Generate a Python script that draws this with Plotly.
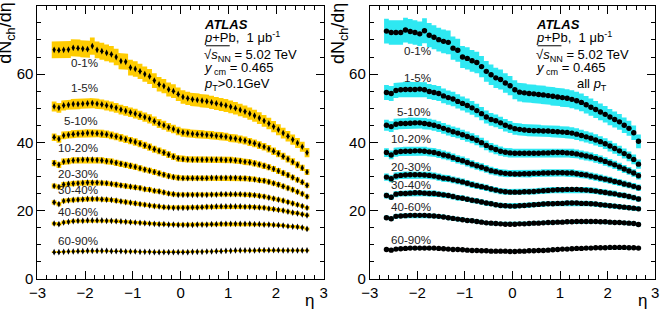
import plotly.graph_objects as go

# ---------------- data ----------------
ETA = [-2.65, -2.55, -2.45, -2.35, -2.25, -2.15, -2.05, -1.95, -1.85, -1.75,
       -1.65, -1.55, -1.45, -1.35, -1.25, -1.15, -1.05, -0.95, -0.85, -0.75,
       -0.65, -0.55, -0.45, -0.35, -0.25, -0.15, -0.05, 0.05, 0.15, 0.25,
       0.35, 0.45, 0.55, 0.65, 0.75, 0.85, 0.95, 1.05, 1.15, 1.25,
       1.35, 1.45, 1.55, 1.65, 1.75, 1.85, 1.95, 2.05, 2.15, 2.25,
       2.35, 2.45, 2.55, 2.65]

CENTRALITIES = ["0-1%", "1-5%", "5-10%", "10-20%", "20-30%", "30-40%", "40-60%", "60-90%"]

# left panel: pT > 0.1 GeV
L_0_1 = [67.1, 67.0, 67.1, 67.2, 67.7, 67.6, 67.4, 67.3, 68.2, 67.1,
         66.7, 66.2, 65.8, 65.0, 63.8, 63.6, 61.9, 61.5, 60.8, 60.0,
         59.3, 58.1, 57.0, 56.5, 55.5, 55.0, 54.1, 53.3, 52.9, 52.6,
         52.4, 52.2, 52.0, 51.7, 51.4, 51.1, 50.8, 50.4, 50.0, 49.5,
         49.0, 48.4, 47.8, 47.1, 46.3, 45.5, 44.6, 43.7, 42.7, 41.8,
         40.8, 39.8, 38.7, 37.0]
L_1_5 = [50.5, 50.1, 50.8, 51.0, 51.2, 51.2, 51.3, 51.4, 51.5, 51.3,
         51.1, 50.8, 50.5, 50.1, 49.6, 49.2, 48.8, 48.4, 47.9, 47.4,
         46.9, 46.2, 45.5, 45.0, 44.4, 43.9, 43.3, 42.9, 42.7, 42.5,
         42.4, 42.3, 42.2, 42.1, 41.9, 41.8, 41.6, 41.3, 41.1, 40.8,
         40.5, 40.1, 39.7, 39.2, 38.7, 38.1, 37.4, 36.7, 35.9, 35.1,
         34.3, 33.4, 32.5, 31.3]
L_5_10 = [41.5, 41.0, 42.0, 42.2, 42.4, 42.5, 42.6, 42.7, 42.7, 42.6,
          42.5, 42.3, 42.0, 41.7, 41.3, 40.9, 40.5, 40.1, 39.6, 39.1,
          38.6, 38.0, 37.5, 37.0, 36.4, 35.8, 35.3, 35.1, 35.0, 34.9,
          34.9, 34.9, 34.9, 34.9, 34.9, 34.9, 34.8, 34.8, 34.7, 34.5,
          34.3, 34.1, 33.8, 33.5, 33.1, 32.7, 32.2, 31.6, 31.0, 30.4,
          29.7, 29.0, 28.3, 27.4]
L_10_20 = [33.9, 33.4, 34.3, 34.5, 34.7, 34.8, 34.9, 34.9, 34.9, 34.8,
           34.7, 34.5, 34.3, 34.0, 33.7, 33.4, 33.1, 32.8, 32.4, 32.0,
           31.7, 31.3, 30.9, 30.5, 30.1, 29.8, 29.6, 29.5, 29.5, 29.5,
           29.5, 29.5, 29.5, 29.6, 29.6, 29.6, 29.6, 29.6, 29.6, 29.5,
           29.4, 29.3, 29.1, 28.9, 28.7, 28.4, 28.0, 27.6, 27.1, 26.6,
           26.1, 25.5, 24.9, 24.1]
L_20_30 = [27.2, 26.9, 27.6, 27.8, 27.9, 28.0, 28.1, 28.2, 28.2, 28.2,
           28.1, 28.0, 27.8, 27.6, 27.4, 27.2, 27.0, 26.8, 26.6, 26.3,
           26.1, 25.8, 25.6, 25.3, 25.0, 24.8, 24.6, 24.6, 24.6, 24.6,
           24.6, 24.6, 24.6, 24.7, 24.7, 24.8, 24.8, 24.8, 24.8, 24.8,
           24.7, 24.6, 24.5, 24.3, 24.1, 23.8, 23.5, 23.2, 22.9, 22.5,
           22.1, 21.7, 21.3, 20.8]
L_30_40 = [22.4, 21.9, 22.8, 23.0, 23.1, 23.2, 23.3, 23.4, 23.4, 23.4,
           23.3, 23.2, 23.1, 22.9, 22.7, 22.5, 22.3, 22.1, 21.9, 21.7,
           21.5, 21.3, 21.2, 21.0, 20.9, 20.8, 20.8, 20.8, 20.8, 20.9,
           20.9, 21.0, 21.1, 21.1, 21.2, 21.2, 21.2, 21.2, 21.2, 21.2,
           21.1, 21.1, 21.0, 20.9, 20.8, 20.6, 20.4, 20.2, 20.0, 19.7,
           19.4, 19.2, 18.9, 18.6]
L_40_60 = [16.2, 16.0, 16.5, 16.7, 16.9, 17.0, 17.0, 17.1, 17.1, 17.1,
           17.1, 17.0, 17.0, 16.9, 16.8, 16.7, 16.6, 16.5, 16.4, 16.3,
           16.2, 16.1, 16.0, 16.0, 15.9, 15.9, 15.8, 15.8, 15.8, 15.8,
           15.9, 15.9, 15.9, 16.0, 16.0, 16.1, 16.1, 16.1, 16.1, 16.1,
           16.1, 16.1, 16.0, 16.0, 15.9, 15.9, 15.8, 15.7, 15.6, 15.4,
           15.3, 15.2, 15.0, 14.6]
L_60_90 = [7.8, 7.8, 7.9, 8.0, 8.0, 8.1, 8.1, 8.2, 8.2, 8.2,
           8.2, 8.2, 8.1, 8.1, 8.1, 8.0, 8.0, 8.0, 7.9, 7.9,
           7.9, 7.8, 7.8, 7.8, 7.8, 7.8, 7.8, 7.8, 7.8, 7.9,
           7.9, 7.9, 8.0, 8.0, 8.1, 8.1, 8.2, 8.2, 8.3, 8.3,
           8.3, 8.3, 8.3, 8.4, 8.4, 8.4, 8.4, 8.4, 8.3, 8.3,
           8.3, 8.3, 8.3, 8.3]

# right panel: all pT
R_0_1 = [72.6, 72.2, 72.2, 72.2, 72.9, 72.5, 72.2, 71.8, 72.7, 71.4,
         70.8, 70.1, 69.6, 69.3, 67.6, 67.0, 65.0, 64.6, 63.9, 63.4,
         62.2, 60.8, 59.8, 58.9, 58.4, 57.4, 56.6, 55.4, 54.7, 54.5,
         54.3, 54.2, 54.0, 53.9, 53.7, 53.5, 53.3, 53.1, 52.9, 52.6,
         52.2, 51.7, 51.0, 50.3, 49.6, 48.9, 48.2, 47.4, 46.7, 46.0,
         45.0, 44.1, 42.8, 40.3]
R_1_5 = [54.6, 54.3, 55.2, 55.4, 55.5, 55.5, 55.5, 55.6, 55.4, 54.9,
         54.6, 54.3, 53.6, 53.1, 52.7, 52.0, 51.4, 50.8, 50.1, 49.3,
         48.4, 47.4, 46.7, 46.3, 45.7, 45.0, 44.5, 44.0, 43.8, 43.6,
         43.5, 43.4, 43.4, 43.3, 43.3, 43.2, 43.1, 43.0, 42.9, 42.7,
         42.4, 42.0, 41.6, 41.2, 40.7, 40.2, 39.6, 38.9, 38.2, 37.5,
         36.7, 35.9, 35.0, 33.6]
R_5_10 = [45.0, 44.6, 45.3, 45.5, 45.5, 45.6, 45.7, 45.7, 45.5, 45.3,
          45.0, 44.6, 44.1, 43.6, 43.1, 42.7, 42.2, 41.7, 41.2, 40.6,
          39.9, 39.1, 38.4, 37.9, 37.4, 37.1, 36.9, 36.8, 36.8, 36.8,
          36.8, 36.8, 36.8, 36.9, 36.9, 37.0, 37.0, 37.0, 36.9, 36.8,
          36.6, 36.3, 36.0, 35.7, 35.3, 34.9, 34.4, 33.9, 33.4, 32.8,
          32.2, 31.6, 31.0, 30.2]
R_10_20 = [37.0, 36.3, 37.1, 37.3, 37.4, 37.4, 37.5, 37.5, 37.4, 37.2,
           37.0, 36.7, 36.3, 36.0, 35.5, 35.0, 34.6, 34.1, 33.6, 33.1,
           32.7, 32.2, 31.7, 31.4, 31.1, 30.9, 30.8, 30.7, 30.7, 30.8,
           30.8, 30.9, 30.9, 31.0, 31.0, 31.1, 31.1, 31.1, 31.0, 31.0,
           30.8, 30.6, 30.4, 30.1, 29.8, 29.5, 29.2, 28.9, 28.5, 28.2,
           27.8, 27.5, 27.1, 26.7]
R_20_30 = [29.8, 29.3, 30.1, 30.3, 30.4, 30.5, 30.5, 30.5, 30.4, 30.3,
           30.1, 29.8, 29.5, 29.3, 29.0, 28.7, 28.4, 28.0, 27.6, 27.3,
           27.0, 26.7, 26.3, 26.0, 25.7, 25.5, 25.4, 25.4, 25.4, 25.5,
           25.5, 25.6, 25.7, 25.8, 25.9, 26.0, 26.1, 26.1, 26.2, 26.2,
           26.2, 26.1, 26.0, 25.9, 25.7, 25.5, 25.3, 25.1, 24.9, 24.6,
           24.4, 24.1, 23.8, 23.4]
R_30_40 = [24.4, 23.9, 24.8, 25.0, 25.0, 25.1, 25.2, 25.2, 25.1, 25.0,
           25.0, 24.8, 24.6, 24.4, 24.1, 23.8, 23.6, 23.3, 23.0, 22.8,
           22.5, 22.2, 22.0, 21.7, 21.5, 21.4, 21.3, 21.3, 21.4, 21.5,
           21.6, 21.7, 21.8, 21.9, 22.0, 22.0, 22.1, 22.1, 22.2, 22.2,
           22.2, 22.1, 22.1, 22.0, 21.9, 21.7, 21.6, 21.4, 21.3, 21.1,
           21.0, 20.8, 20.7, 20.5]
R_40_60 = [17.9, 17.6, 18.3, 18.4, 18.5, 18.6, 18.6, 18.6, 18.6, 18.5,
           18.4, 18.3, 18.1, 17.9, 17.7, 17.5, 17.3, 17.1, 17.0, 16.8,
           16.6, 16.4, 16.3, 16.2, 16.1, 16.0, 16.0, 16.0, 16.1, 16.1,
           16.2, 16.3, 16.3, 16.4, 16.5, 16.5, 16.6, 16.6, 16.7, 16.7,
           16.8, 16.8, 16.8, 16.8, 16.8, 16.7, 16.7, 16.6, 16.5, 16.5,
           16.4, 16.3, 16.2, 15.9]
R_60_90 = [8.6, 8.4, 8.7, 8.8, 8.9, 9.0, 9.0, 9.0, 9.0, 9.0,
           9.0, 8.9, 8.8, 8.7, 8.6, 8.6, 8.5, 8.4, 8.3, 8.3,
           8.2, 8.2, 8.1, 8.1, 8.1, 8.1, 8.0, 8.0, 8.1, 8.1,
           8.2, 8.2, 8.3, 8.3, 8.4, 8.5, 8.6, 8.7, 8.7, 8.8,
           8.9, 8.9, 9.0, 9.0, 9.1, 9.1, 9.1, 9.2, 9.2, 9.2,
           9.2, 9.1, 9.1, 9.0]

# relative systematic uncertainty per centrality
L_SYS = [0.037, 0.029, 0.027, 0.027, 0.027, 0.028, 0.030, 0.035]
R_SYS = [0.050, 0.040, 0.036, 0.035, 0.035, 0.035, 0.037, 0.040]

# centrality label positions (eta of right edge, dNch/deta of centre)
L_LABEL_X = -1.68
L_LABEL_Y = [63.4, 56.0, 46.5, 38.4, 30.9, 26.1, 19.7, 11.1]
R_LABEL_X = -1.67
R_LABEL_Y = [66.9, 59.0, 49.0, 41.0, 33.0, 27.5, 21.1, 11.4]

LEFT = [L_0_1, L_1_5, L_5_10, L_10_20, L_20_30, L_30_40, L_40_60, L_60_90]
RIGHT = [R_0_1, R_1_5, R_5_10, R_10_20, R_20_30, R_30_40, R_40_60, R_60_90]

W, H = 665, 317
FONT = "Liberation Sans, Arial, Helvetica, sans-serif"
YELLOW = "#FFCC00"
CYAN = "#2EE8F2"
BIN_HALF = 0.05

fig = go.Figure()


def band(xaxis, yaxis, vals, rel, color):
    xs, ys = [], []
    for e, v in zip(ETA, vals):
        xs += [e - BIN_HALF, e + BIN_HALF]
        ys += [v * (1 + rel), v * (1 + rel)]
    for e, v in zip(reversed(ETA), reversed(vals)):
        xs += [e + BIN_HALF, e - BIN_HALF]
        ys += [v * (1 - rel), v * (1 - rel)]
    fig.add_trace(go.Scatter(x=xs, y=ys, xaxis=xaxis, yaxis=yaxis, mode="lines",
                             fill="toself", fillcolor=color, line=dict(width=0),
                             hoverinfo="skip", showlegend=False))


for vals, rel in zip(LEFT, L_SYS):
    band("x", "y", vals, rel, YELLOW)
for vals, rel in zip(RIGHT, R_SYS):
    band("x2", "y2", vals, rel, CYAN)

for vals in LEFT:
    fig.add_trace(go.Scatter(x=ETA, y=vals, xaxis="x", yaxis="y", mode="markers",
                             marker=dict(symbol="diamond-tall", size=4.8, color="black",
                                         line=dict(width=0)),
                             showlegend=False))
for vals in RIGHT:
    fig.add_trace(go.Scatter(x=ETA, y=vals, xaxis="x2", yaxis="y2", mode="markers",
                             marker=dict(symbol="circle", size=5.4, color="black",
                                         line=dict(width=0)),
                             showlegend=False))

annotations = []
for name, yv in zip(CENTRALITIES, L_LABEL_Y):
    annotations.append(dict(x=L_LABEL_X, y=yv, xref="x", yref="y", text=name,
                            showarrow=False, xanchor="right", yanchor="middle",
                            font=dict(family=FONT, size=11.6, color="#222")))
for name, yv in zip(CENTRALITIES, R_LABEL_Y):
    annotations.append(dict(x=R_LABEL_X, y=yv, xref="x2", yref="y2", text=name,
                            showarrow=False, xanchor="right", yanchor="middle",
                            font=dict(family=FONT, size=11.6, color="#222")))

TXT_Y = [74.5, 70.8, 65.35, 61.75, 56.9]
LEFT_TXT = ["<b><i>ATLAS</i></b>",
            "<i>p</i>+Pb,  1 μb<sup>-1</sup>",
            "√<i>s</i><sub>NN</sub> = 5.02 TeV",
            "<i>y</i><sub> cm</sub> = 0.465",
            "<i>p</i><sub>T</sub>&gt;0.1GeV"]
RIGHT_TXT = ["<b><i>ATLAS</i></b>",
             "<i>p</i>+Pb,  1 μb<sup>-1</sup>",
             "√<i>s</i><sub>NN</sub> = 5.02 TeV",
             "<i>y</i><sub> cm</sub> = 0.465",
             None]
for xr, yr, texts in (("x", "y", LEFT_TXT), ("x2", "y2", RIGHT_TXT)):
    for t, yv in zip(texts, TXT_Y):
        if t is None:
            continue
        annotations.append(dict(x=0.45, y=yv, xref=xr, yref=yr, text=t, showarrow=False,
                                xanchor="left", yanchor="middle",
                                font=dict(family=FONT, size=13, color="black")))
annotations.append(dict(x=1.31, y=TXT_Y[4], xref="x2", yref="y2",
                        text="all <i>p</i><sub>T</sub>", showarrow=False,
                        xanchor="left", yanchor="middle",
                        font=dict(family=FONT, size=13, color="black")))

# axis titles
for px in (-2.5, 336.5):
    annotations.append(dict(x=px / W, y=1 - 34 / H, xref="paper", yref="paper",
                            text="dN<sub>ch</sub>/dη", textangle=-90, showarrow=False,
                            xanchor="center", yanchor="middle",
                            font=dict(family=FONT, size=18, color="black")))
for px in (307, 646):
    annotations.append(dict(x=px / W, y=1 - 308 / H, xref="paper", yref="paper",
                            text="η", showarrow=False, xanchor="center", yanchor="middle",
                            font=dict(family=FONT, size=17, color="black")))

# overline of the square root
shapes = []
for xr, yr in (("x", "y"), ("x2", "y2")):
    shapes.append(dict(type="line", xref=xr, yref=yr, x0=0.53, x1=1.03, y0=68.3, y1=68.3,
                       line=dict(color="black", width=1)))

xax = dict(range=[-3, 3], dtick=1, tick0=0, ticks="inside", ticklen=8, tickwidth=1,
           tickcolor="black", showline=True, linecolor="black", linewidth=1,
           mirror="allticks", showgrid=False, zeroline=False,
           tickfont=dict(family=FONT, size=15, color="black"),
           minor=dict(ticks="inside", dtick=0.2, ticklen=4, tickcolor="black", showgrid=False))
yax = dict(range=[0, 80], dtick=20, tick0=0, ticks="inside", ticklen=8, tickwidth=1,
           tickcolor="black", showline=True, linecolor="black", linewidth=1,
           mirror="allticks", showgrid=False, zeroline=False,
           tickfont=dict(family=FONT, size=15, color="black"),
           minor=dict(ticks="inside", dtick=5, ticklen=4, tickcolor="black", showgrid=False))

ydom = [(H - 286) / H, (H - 6) / H]
fig.update_layout(
    width=W, height=H, margin=dict(l=0, r=0, t=0, b=0),
    paper_bgcolor="white", plot_bgcolor="white", showlegend=False,
    xaxis=dict(xax, domain=[29 / W, 321 / W], anchor="y"),
    yaxis=dict(yax, domain=ydom, anchor="x"),
    xaxis2=dict(xax, domain=[368 / W, 659 / W], anchor="y2"),
    yaxis2=dict(yax, domain=ydom, anchor="x2"),
    annotations=annotations, shapes=shapes,
)

fig.write_html("out.html")
